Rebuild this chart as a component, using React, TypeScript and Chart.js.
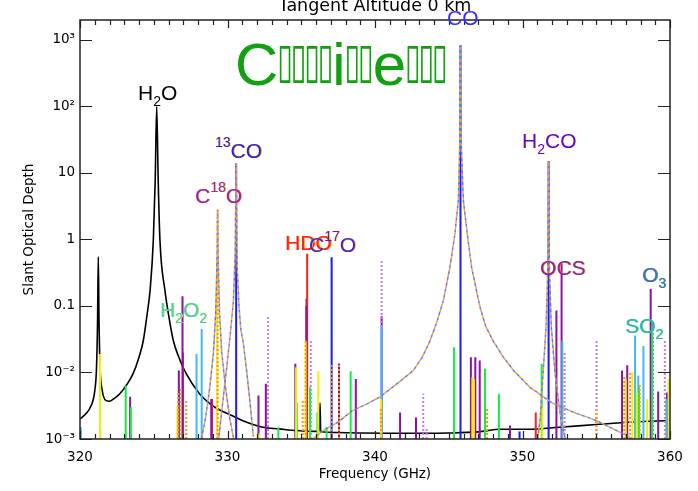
import React, { useEffect, useRef } from "react";
import { Chart, registerables } from "chart.js";
Chart.register(...registerables);

const X_MIN = 320;
const X_MAX = 360;
const Y_MIN = 0.001;
const Y_MAX = 1995;
const FLOOR = 0.0005;

const xTicks = [320, 330, 340, 350, 360];
const yTicks = [1e-3, 1e-2, 0.1, 1, 10, 100, 1000];
const yTickLabels = ["10\u207B\u00B3", "10\u207B\u00B2", "0.1", "1", "10", "10\u00B2", "10\u00B3"];

const titleText = "Tangent Altitude 0 km";
const xTitle = "Frequency (GHz)";
const yTitle = "Slant Optical Depth";
const bannerText = "C\u25AF\u25AF\u25AF\u25AFi\u25AF\u25AFe\u25AF\u25AF\u25AF";

// H2O black curve
const h2oFreq = [320.0, 320.4, 320.7, 321.0, 321.12, 321.19, 321.24, 321.29, 321.36, 321.5, 321.75, 322.0, 322.4, 322.7, 323.2, 323.6, 324.0, 324.29, 324.55, 324.75, 324.97, 325.1, 325.2, 325.3, 325.42, 325.76, 326.0, 326.33, 326.7, 327.2, 328.1, 328.8, 329.5, 330.2, 331.0, 332.4, 333.5, 334.7, 336.0, 336.22, 336.27, 336.32, 337.5, 339.0, 341.0, 343.0, 345.0, 347.0, 348.5, 350.5, 352.5, 355.0, 357.5, 360.0];
const h2oDepth = [0.002, 0.0024, 0.003, 0.0053, 0.012, 0.06, 0.55, 0.06, 0.012, 0.0055, 0.0038, 0.0037, 0.0042, 0.0048, 0.0067, 0.0096, 0.017, 0.03, 0.075, 0.17, 0.96, 8, 100, 8, 0.98, 0.17, 0.075, 0.03, 0.017, 0.0096, 0.0048, 0.0034, 0.0027, 0.0023, 0.0019, 0.0015, 0.00142, 0.00134, 0.0013, 0.0013, 0.0035, 0.0013, 0.00125, 0.00123, 0.00122, 0.00122, 0.00123, 0.00128, 0.0014, 0.0014, 0.0015, 0.00165, 0.0018, 0.0019];

// CO line wings
const coFreq = [335.5, 336.5, 337.5, 338.5, 339.5, 340.34, 341.5, 342.6, 343.2, 343.73, 344.2, 344.63, 345.08, 345.42, 345.65, 345.75, 345.796, 345.84, 345.99, 346.26, 346.55, 347.12, 347.5, 348.0, 348.7, 349.4, 350.5, 352.0, 353.5, 355.0, 356.2, 357.3, 358.0];
const coDepth = [0.0009, 0.00134, 0.0018, 0.0027, 0.0034, 0.0043, 0.0068, 0.0107, 0.017, 0.03, 0.058, 0.12, 0.38, 1.23, 3.9, 30, 830, 30, 3.9, 1.2, 0.38, 0.096, 0.05, 0.03, 0.017, 0.0107, 0.006, 0.0035, 0.0025, 0.0019, 0.0014, 0.00106, 0.0008];

// 13CO line wings
const co13Freq = [329.4, 329.7, 329.95, 330.2, 330.4, 330.52, 330.588, 330.65, 330.78, 330.9, 331.08, 331.3, 331.53, 331.75];
const co13Depth = [0.001, 0.004, 0.012, 0.04, 0.12, 0.6, 14, 0.4, 0.1, 0.045, 0.027, 0.0104, 0.0035, 0.0011];

// C18O line wings
const c18oFreq = [328.2, 328.5, 328.8, 329.05, 329.2, 329.3, 329.33, 329.36, 329.46, 329.61, 329.86, 330.16, 330.46];
const c18oDepth = [0.0009, 0.002, 0.006, 0.02, 0.08, 0.6, 2.8, 0.6, 0.08, 0.02, 0.006, 0.002, 0.0009];

// H2CO line wings
const h2coFreq = [351.0, 351.2, 351.4, 351.6, 351.72, 351.77, 351.82, 351.95, 352.2, 352.6, 352.95];
const h2coDepth = [0.0009, 0.002, 0.01, 0.05, 0.4, 15, 0.4, 0.05, 0.01, 0.002, 0.0009];

// individual lines (spikes), grouped by colour
const purpleFreq = [321.36, 323.4, 326.7, 326.95, 328.9, 332.1, 332.6, 334.6, 335.35, 337.56, 338.7, 340.45, 341.7, 342.78, 346.5, 346.8, 347.1, 349.15, 352.3, 352.65, 356.75, 357.1, 358.69, 359.2, 359.8];
const purpleDepth = [0.0015, 0.0043, 0.0107, 0.14, 0.004, 0.0045, 0.0068, 0.0135, 0.1, 0.0136, 0.008, 0.07, 0.0025, 0.0021, 0.0169, 0.0169, 0.0152, 0.0016, 0.0857, 0.44, 0.0107, 0.0128, 0.18, 0.0052, 0.005];

const yellowFreq = [321.36, 326.6, 329.3, 332.15, 334.65, 335.3, 336.16, 340.4, 346.6, 346.7, 351.35, 357.0, 357.45, 357.75, 358.45, 359.9];
const yellowDepth = [0.019, 0.003, 0.5, 0.0012, 0.012, 0.03, 0.0104, 0.004, 0.0085, 0.008, 0.003, 0.008, 0.01, 0.005, 0.004, 0.008];

const greenFreq = [321.36, 323.1, 323.45, 333.45, 334.7, 335.6, 336.1, 336.72, 338.35, 345.36, 347.46, 348.4, 351.3, 357.9, 358.8];
const greenDepth = [0.009, 0.0064, 0.003, 0.0015, 0.0035, 0.006, 0.0025, 0.0015, 0.0104, 0.024, 0.0114, 0.0048, 0.0135, 0.006, 0.05];

const cyanFreq = [320.05, 327.9, 328.25, 340.45, 352.7, 357.63, 357.85, 358.2, 359.75];
const cyanDepth = [0.0015, 0.019, 0.045, 0.05, 0.03, 0.036, 0.009, 0.025, 0.004];

const lilacFreq = [332.75, 335.65, 340.45, 343.27, 343.5, 352.85, 355.02, 358.85, 359.65];
const lilacDepth = [0.07, 0.03, 0.47, 0.0048, 0.0015, 0.02, 0.03, 0.055, 0.031];

const orangeFreq = [326.65, 326.85, 327.2, 329.33, 335.1, 335.3, 337.06, 337.56, 340.4, 347.6, 355.0, 356.9, 357.3, 357.95];
const orangeDepth = [0.005, 0.006, 0.004, 2.8, 0.004, 0.03, 0.013, 0.0136, 0.003, 0.003, 0.003, 0.009, 0.01, 0.007];

const redFreq = [326.98, 328.95, 335.4, 350.9];
const redDepth = [0.02, 0.004, 0.61, 0.0025];

const blueFreq = [330.588, 335.36, 337.06, 345.796, 351.77, 349.8];
const blueDepth = [14, 0.13, 0.54, 830, 15, 0.0013];

// molecule labels: text ("_" subscript, "^" superscript), anchor freq / depth
const labelText = ["H_2O", "^13CO", "C^18O", "HDO", "C^17O", "CO", "H_2CO", "OCS", "O_3", "SO_2", "H_2O_2"];
const labelFreq = [323.93, 329.15, 327.8, 333.9, 335.53, 344.88, 349.97, 351.19, 358.1, 356.95, 325.42];
const labelDepth = [125, 16.8, 3.54, 0.695, 0.649, 1683, 23.8, 0.292, 0.23, 0.0393, 0.0684];
const labelColor = ["#000000", "#2a20e0", "#9a20c0", "#ff2020", "#4a20e0", "#3030ff", "#6a00c0", "#9020a0", "#4868c0", "#30b0c0", "#40d0b0"];
const labelShade = ["", "#ffb000", "#ffa500", "#ff9000", "#ffc000", "", "", "#ff9900", "#40c0a0", "#60e060", "#e0e040"];

function spikes(freq: number[], depth: number[]) {
  const pts: { x: number; y: number | null }[] = [];
  freq.forEach((f, i) => {
    pts.push({ x: f, y: FLOOR }, { x: f, y: depth[i] }, { x: f, y: null });
  });
  return pts;
}
function curve(freq: number[], depth: number[]) {
  return freq.map((f, i) => ({ x: f, y: depth[i] }));
}

function drawRich(ctx: CanvasRenderingContext2D, text: string, x: number, y: number, size: number) {
  let cx = x;
  let i = 0;
  while (i < text.length) {
    const ch = text[i];
    if (ch === "_" || ch === "^") {
      let j = i + 1;
      let s = "";
      while (j < text.length && /[0-9]/.test(text[j])) {
        s += text[j];
        j++;
      }
      ctx.font = `${Math.round(size * 0.68)}px 'Liberation Sans'`;
      const dy = ch === "_" ? size * 0.3 : -size * 0.52;
      ctx.fillText(s, cx, y + dy);
      cx += ctx.measureText(s).width;
      i = j;
    } else {
      ctx.font = `${size}px 'Liberation Sans'`;
      ctx.fillText(ch, cx, y);
      cx += ctx.measureText(ch).width;
      i++;
    }
  }
}

// draws the banner; unknown glyphs are fitted into narrow tall boxes
function drawBanner(ctx: CanvasRenderingContext2D, text: string, x: number, y: number) {
  const adv = 13.5;
  const inkW = 11;
  const boxTop = 40;
  const boxBottom = 2;
  let cx = x;
  for (const ch of text) {
    if (ch === "\u25AF") {
      ctx.font = "60px 'DejaVu Sans'";
      const m = ctx.measureText(ch);
      const l = m.actualBoundingBoxLeft || 0;
      const r = m.actualBoundingBoxRight || m.width;
      const a = m.actualBoundingBoxAscent || 40;
      const d = m.actualBoundingBoxDescent || 0;
      const w = r + l || m.width;
      const h = a + d || 40;
      const sx = inkW / w;
      const sy = (boxTop - boxBottom) / h;
      ctx.save();
      ctx.translate(cx + (adv - inkW) / 2 + l * sx, y - boxTop + a * sy);
      ctx.scale(sx, sy);
      ctx.fillText(ch, 0, 0);
      ctx.restore();
      cx += adv;
    } else {
      ctx.font = "60px 'Liberation Sans'";
      ctx.fillText(ch, cx, y);
      cx += ctx.measureText(ch).width;
    }
  }
}

const decorPlugin = {
  id: "decor",
  afterDatasetsDraw(chart: any) {
    const ctx: CanvasRenderingContext2D = chart.ctx;
    const { left, right, top, bottom } = chart.chartArea;
    const xs = chart.scales.x;
    const ys = chart.scales.y;
    ctx.save();
    // frame
    ctx.strokeStyle = "#222";
    ctx.lineWidth = 1.5;
    ctx.strokeRect(left, top, right - left, bottom - top);
    // x ticks
    ctx.lineWidth = 1.2;
    for (let f = X_MIN; f <= X_MAX; f += 1) {
      const px = Math.round(xs.getPixelForValue(f)) + 0.5;
      const len = f % 10 === 0 ? 8 : 5;
      ctx.beginPath();
      ctx.moveTo(px, top);
      ctx.lineTo(px, top + len);
      ctx.moveTo(px, bottom);
      ctx.lineTo(px, bottom - len);
      ctx.stroke();
    }
    // y ticks
    yTicks.forEach((v) => {
      const py = Math.round(ys.getPixelForValue(v)) + 0.5;
      ctx.beginPath();
      ctx.moveTo(left, py);
      ctx.lineTo(left + 12, py);
      ctx.moveTo(right, py);
      ctx.lineTo(right - 12, py);
      ctx.stroke();
    });
    // molecule labels
    ctx.textAlign = "left";
    ctx.textBaseline = "alphabetic";
    labelText.forEach((t, i) => {
      const px = xs.getPixelForValue(labelFreq[i]);
      const py = ys.getPixelForValue(labelDepth[i]);
      if (labelShade[i]) {
        ctx.fillStyle = labelShade[i];
        drawRich(ctx, t, px + 0.8, py, 21);
      }
      ctx.fillStyle = labelColor[i];
      drawRich(ctx, t, px, py, 21);
    });
    // banner
    ctx.fillStyle = "#10a010";
    drawBanner(ctx, bannerText, left + 155, top + 65);
    // title
    const cx = (left + right) / 2;
    ctx.fillStyle = "#000";
    ctx.textAlign = "center";
    ctx.font = "17.5px 'DejaVu Sans'";
    ctx.fillText(titleText, cx, 11);
    ctx.font = "13.5px 'DejaVu Sans'";
    ctx.fillText(xTitle, cx, 478);
    ctx.save();
    ctx.translate(33, (top + bottom) / 2);
    ctx.rotate(-Math.PI / 2);
    ctx.fillText(yTitle, 0, 0);
    ctx.restore();
    ctx.restore();
  },
};

export default function App() {
  const ref = useRef<HTMLCanvasElement | null>(null);
  useEffect(() => {
    if (!ref.current) return;
    const solid = (data: any, color: string, width = 2) => ({
      data,
      borderColor: color,
      borderWidth: width,
      pointRadius: 0,
      fill: false,
      spanGaps: false,
    });
    const dotted = (data: any, color: string, width = 2) => ({
      ...solid(data, color, width),
      borderDash: [2, 2],
    });
    const wing = (freq: number[], depth: number[]) => [
      { ...dotted(curve(freq, depth), "#ff9933", 1.5), borderDash: [3, 3] },
      { ...dotted(curve(freq, depth), "#4a80ff", 1.5), borderDash: [3, 3], borderDashOffset: 3 },
    ];
    const chart = new Chart(ref.current, {
      type: "line",
      data: {
        datasets: [
          ...wing(coFreq, coDepth),
          ...wing(co13Freq, co13Depth),
          ...wing(c18oFreq, c18oDepth),
          ...wing(h2coFreq, h2coDepth),
          dotted(spikes(orangeFreq, orangeDepth), "#ff9900"),
          solid(spikes(yellowFreq, yellowDepth), "#f4f000"),
          solid(spikes(greenFreq, greenDepth), "#10f040"),
          solid(spikes(cyanFreq, cyanDepth), "#40b8ff"),
          dotted(spikes(lilacFreq, lilacDepth), "#c080e8"),
          solid(spikes(purpleFreq, purpleDepth), "#8a10a8"),
          solid(spikes(redFreq, redDepth), "#ff2020"),
          solid(spikes(blueFreq, blueDepth), "#1a1aff"),
          { ...solid(curve(h2oFreq, h2oDepth), "#000000", 1.6), cubicInterpolationMode: "monotone" },
        ] as any,
      },
      options: {
        animation: false,
        responsive: false,
        devicePixelRatio: 1,
        layout: { padding: { left: 0, right: 28, top: 20, bottom: 0 } },
        plugins: { legend: { display: false }, tooltip: { enabled: false } },
        scales: {
          x: {
            type: "linear",
            min: X_MIN,
            max: X_MAX,
            afterBuildTicks: (s: any) => {
              s.ticks = xTicks.map((v) => ({ value: v }));
            },
            afterFit: (s: any) => {
              s.height = 52;
            },
            grid: { display: false, drawTicks: false },
            border: { display: false },
            ticks: {
              padding: 10,
              color: "#000",
              font: { family: "'DejaVu Sans'", size: 13.5 },
              maxRotation: 0,
              callback: (v: any) => String(v),
            },
          },
          y: {
            type: "logarithmic",
            min: Y_MIN,
            max: Y_MAX,
            afterBuildTicks: (s: any) => {
              s.ticks = yTicks.map((v) => ({ value: v }));
            },
            afterFit: (s: any) => {
              s.width = 80;
            },
            grid: { display: false, drawTicks: false },
            border: { display: false },
            ticks: {
              padding: 5,
              color: "#000",
              font: { family: "'DejaVu Sans'", size: 13.5 },
              callback: (v: any) => {
                const i = yTicks.findIndex((t) => Math.abs(Math.log10(t) - Math.log10(v)) < 1e-6);
                return i >= 0 ? yTickLabels[i] : "";
              },
            },
          },
        },
      } as any,
      plugins: [decorPlugin],
    });
    return () => chart.destroy();
  }, []);
  return (
    <div style={{ position: "absolute", left: 0, top: 0, width: 698, height: 491, background: "#fff" }}>
      <canvas ref={ref} width={698} height={491} style={{ display: "block" }} />
    </div>
  );
}
